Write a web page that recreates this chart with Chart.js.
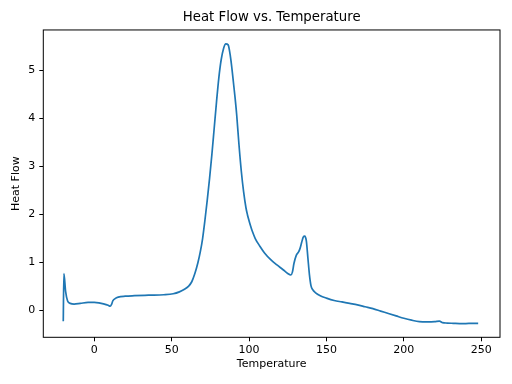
<!DOCTYPE html>
<html>
<head>
<meta charset="utf-8">
<script src="https://cdn.jsdelivr.net/npm/chart.js"></script>
<style>
  html, body { margin: 0; padding: 0; background: #fff; }
  #wrap { width: 512px; height: 384px; }
</style>
</head>
<body>
<div id="wrap"><canvas id="graph" width="512" height="384"></canvas></div>
<script>
// values
const temperature = [-20, -19.6, -18.5, -17.2, -15.5, -13, -9, -4, 0, 3, 6, 9, 10.3, 11.2, 12, 13.5, 15.5, 20, 26, 35, 45, 51, 55, 58, 61, 63, 65, 67, 68.5, 70, 71.5, 73, 74.5, 76, 77.5, 79, 80.5, 82, 83.5, 85, 86.5, 88, 89, 90, 91, 92, 93.5, 95, 96.5, 98, 99, 100, 101, 102, 104, 107, 110, 114, 118, 122, 125, 127, 128, 129, 130.5, 132, 133, 134, 135, 136, 137, 138, 139, 140, 141, 143, 146, 150, 155, 160, 165, 170, 175, 180, 185, 190, 195, 200, 205, 210, 215, 220, 223, 225, 228, 232, 236, 240, 244, 248];
const heatFlow = [-0.22, 0.77, 0.4, 0.2, 0.15, 0.135, 0.15, 0.17, 0.17, 0.16, 0.14, 0.11, 0.09, 0.13, 0.2, 0.25, 0.28, 0.3, 0.31, 0.32, 0.33, 0.35, 0.39, 0.44, 0.51, 0.6, 0.77, 1.0, 1.22, 1.5, 1.88, 2.3, 2.75, 3.25, 3.8, 4.35, 4.85, 5.22, 5.45, 5.55, 5.53, 5.28, 5.02, 4.72, 4.42, 4.08, 3.45, 2.9, 2.47, 2.14, 1.99, 1.87, 1.76, 1.66, 1.5, 1.34, 1.2, 1.06, 0.95, 0.85, 0.77, 0.74, 0.8, 0.98, 1.15, 1.22, 1.3, 1.42, 1.53, 1.55, 1.45, 1.1, 0.75, 0.52, 0.44, 0.37, 0.31, 0.26, 0.21, 0.18, 0.15, 0.12, 0.08, 0.04, -0.01, -0.06, -0.11, -0.16, -0.2, -0.23, -0.235, -0.23, -0.22, -0.25, -0.26, -0.265, -0.27, -0.27, -0.265, -0.265];
const xTicks = [0, 50, 100, 150, 200, 250];
const yTicks = [0, 1, 2, 3, 4, 5];

const ctx = document.getElementById('graph');
const font = "'DejaVu Sans', sans-serif";

const frame = {
    id: 'frame',
    afterDatasetsDraw(chart) {
        const a = chart.chartArea;
        const c = chart.ctx;
        c.save();
        c.strokeStyle = '#000';
        c.lineWidth = 1;
        c.strokeRect(a.left, a.top, a.right - a.left, a.bottom - a.top);
        c.restore();
    }
};

new Chart(ctx, {
    type: 'line',
    data: {
        datasets: [{
            data: temperature.map((t, i) => ({ x: t, y: heatFlow[i] })),
            borderColor: '#1f77b4',
            borderWidth: 1.7,
            pointRadius: 0,
            cubicInterpolationMode: 'monotone',
            fill: false
        }]
    },
    options: {
        responsive: false,
        animation: false,
        layout: { padding: { left: 0, right: 12, top: 0, bottom: 0 } },
        plugins: {
            legend: { display: false },
            tooltip: { enabled: false },
            title: {
                display: true,
                text: 'Heat Flow vs. Temperature',
                fullSize: false,
                color: '#000',
                font: { family: font, size: 13.3, weight: 'normal', lineHeight: 1.2 },
                padding: { top: 10, bottom: 4 }
            }
        },
        scales: {
            x: {
                type: 'linear',
                min: -32.9,
                max: 262.1,
                afterBuildTicks: s => { s.ticks = xTicks.map(v => ({ value: v })); },
                afterFit: s => { s.height = 46.7; },
                border: { display: false },
                grid: { drawOnChartArea: false, drawTicks: true, tickLength: 4, color: '#000', lineWidth: 1 },
                ticks: { color: '#000', font: { family: font, size: 11 }, padding: 2, maxRotation: 0 },
                title: {
                    display: true, text: 'Temperature', color: '#000',
                    font: { family: font, size: 11, lineHeight: 1.2 },
                    padding: { top: 0, bottom: 13.4 }
                }
            },
            y: {
                min: -0.556,
                max: 5.84,
                afterBuildTicks: s => { s.ticks = yTicks.map(v => ({ value: v })); },
                afterFit: s => { s.width = 43.3; },
                border: { display: false },
                grid: { drawOnChartArea: false, drawTicks: true, tickLength: 4, color: '#000', lineWidth: 1 },
                ticks: { color: '#000', font: { family: font, size: 11 }, padding: 4, callback: v => String(v) },
                title: {
                    display: true, text: 'Heat Flow', color: '#000',
                    font: { family: font, size: 11, lineHeight: 1.2 },
                    padding: { top: 9.4, bottom: 0 }
                }
            }
        }
    },
    plugins: [frame]
});
</script>
</body>
</html>
